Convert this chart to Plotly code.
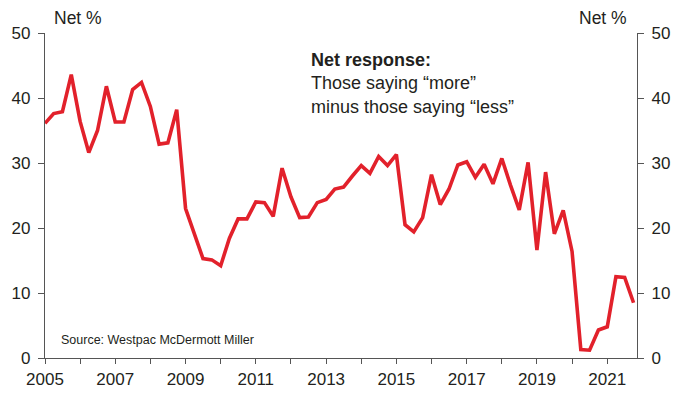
import pandas as pd
import plotly.graph_objects as go

# Quarterly net response, 2005Q1 - 2021Q4
net_pct = [
    36.1, 37.6, 37.9, 43.6, 36.4, 31.6, 35.0, 41.8,
    36.3, 36.3, 41.3, 42.4, 38.7, 32.9, 33.1, 38.2,
    23.0, 19.2, 15.3, 15.1, 14.2, 18.4, 21.4, 21.4,
    24.0, 23.9, 21.8, 29.2, 24.8, 21.6, 21.7, 23.9,
    24.4, 26.0, 26.3, 28.0, 29.6, 28.4, 31.0, 29.6,
    31.3, 20.5, 19.4, 21.6, 28.2, 23.6, 26.0, 29.7,
    30.2, 27.8, 29.8, 26.8, 30.7, 26.6, 22.8, 30.1,
    16.6, 28.6, 19.1, 22.7, 16.4, 1.3, 1.2, 4.3,
    4.8, 12.5, 12.4, 8.5,
]
start_quarter = "2005-01-01"
x_dates = pd.date_range(start_quarter, periods=len(net_pct), freq="QS")

tick_years = list(range(2005, 2022))
tick_text = [str(y) if (y - 2005) % 2 == 0 else "" for y in tick_years]
tick_vals = [pd.Timestamp(f"{y}-01-01") for y in tick_years]
y_ticks = [0, 10, 20, 30, 40, 50]

RED = "#E2212B"
TXT = "#231F20"
AX = "#555555"
FONT = "Liberation Sans, Arial, sans-serif"

fig = go.Figure()
fig.add_trace(go.Scatter(x=x_dates, y=net_pct, mode="lines",
                         line=dict(color=RED, width=3.6), showlegend=False,
                         hoverinfo="skip"))
fig.add_trace(go.Scatter(x=x_dates, y=net_pct, mode="lines", yaxis="y2",
                         line=dict(color="rgba(0,0,0,0)", width=0),
                         showlegend=False, hoverinfo="skip"))

yax_common = dict(
    range=[0, 50], tickvals=y_ticks,
    ticks="outside", ticklen=6, tickwidth=1, tickcolor=AX,
    showline=True, linecolor=AX, linewidth=1.2,
    showgrid=False, zeroline=False, automargin=False,
    tickfont=dict(size=17, color=TXT),
    ticklabelstandoff=4,
)

fig.update_layout(
    width=676, height=397,
    margin=dict(l=45, r=39, t=33, b=39),
    paper_bgcolor="white", plot_bgcolor="white",
    font=dict(family=FONT, color=TXT, size=17),
    xaxis=dict(
        type="date",
        range=[pd.Timestamp("2005-01-01"), pd.Timestamp("2021-11-06")],
        tickmode="array", tickvals=tick_vals, ticktext=tick_text,
        ticks="outside", ticklen=5, tickwidth=1, tickcolor=AX,
        showline=True, linecolor=AX, linewidth=1.2,
        showgrid=False, zeroline=False, automargin=False,
        tickfont=dict(size=17, color=TXT),
    ),
    yaxis=yax_common,
    yaxis2=dict(yax_common, overlaying="y", side="right"),
    annotations=[
        dict(text="Net %", xref="paper", yref="paper", x=0.012, y=1.046,
             xanchor="left", yanchor="middle", showarrow=False,
             font=dict(size=17.5, color=TXT)),
        dict(text="Net %", xref="paper", yref="paper", x=0.987, y=1.046,
             xanchor="right", yanchor="middle", showarrow=False,
             font=dict(size=17.5, color=TXT)),
        dict(text="<b>Net response:</b><br>Those saying \u201cmore\u201d<br>minus those saying \u201cless\u201d",
             xref="paper", yref="paper", x=0.446, y=0.845,
             xanchor="left", yanchor="middle", align="left", showarrow=False,
             font=dict(size=18, color=TXT)),
        dict(text="Source: Westpac McDermott Miller", xref="paper", yref="paper",
             x=0.024, y=0.055, xanchor="left", yanchor="middle", showarrow=False,
             font=dict(size=12.5, color=TXT)),
    ],
)

fig.write_html("out.html")
